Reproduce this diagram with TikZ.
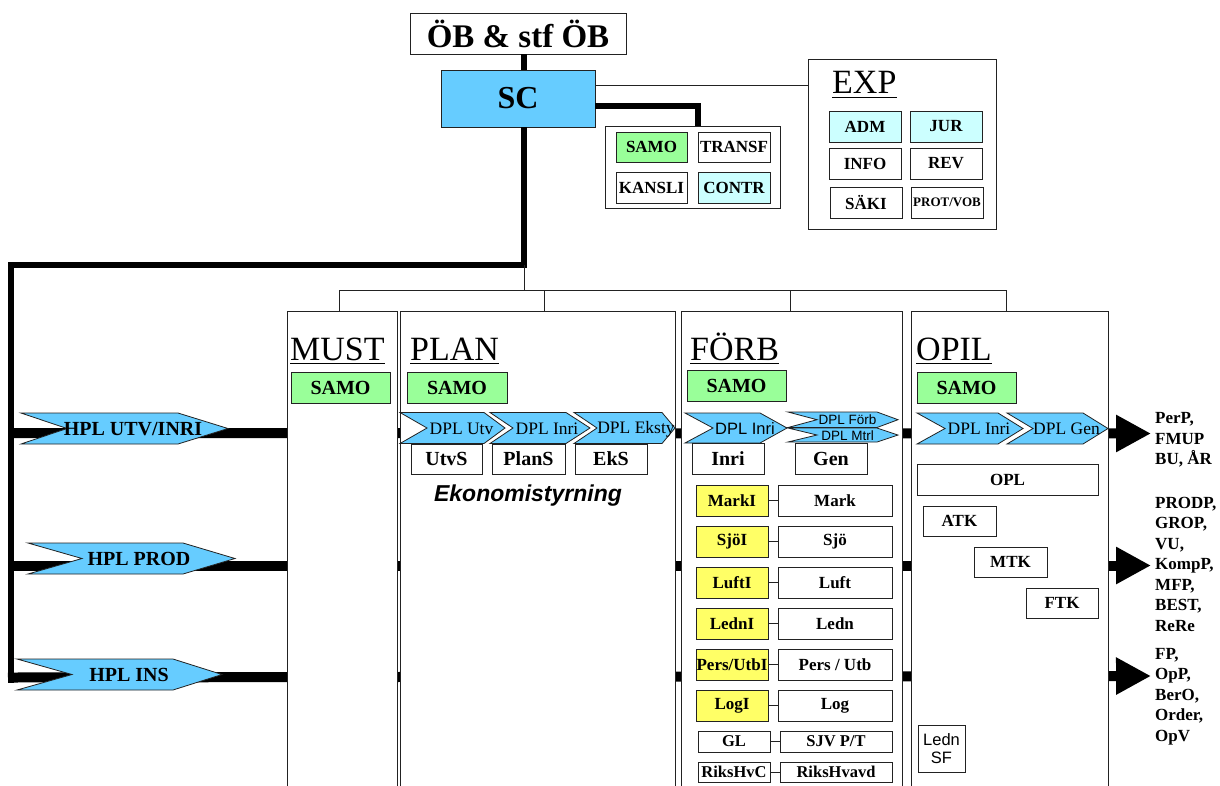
\documentclass[tikz,border=0pt]{standalone}
\usepackage{fontspec}
\setmainfont{Liberation Serif}
\setsansfont{Liberation Sans}
\usetikzlibrary{arrows.meta}
\definecolor{skyb}{HTML}{66CCFF}
\definecolor{grn}{HTML}{99FF99}
\definecolor{cyn}{HTML}{CCFFFF}
\definecolor{ylw}{HTML}{FFFF66}
\definecolor{edge}{HTML}{222222}
\newcommand\fsz[1]{\fontsize{#1}{#1}\selectfont}
% L N R T yt yb yc
\newcommand\chevron[7]{\draw[chev] (#1,#5) -- (#3,#5) -- (#4,#7) -- (#3,#6) -- (#1,#6) -- (#2,#7) -- cycle;}
\begin{document}
\begin{tikzpicture}[x=1pt,y=-1pt,
  bx/.style={draw=edge, line width=0.9pt, inner sep=0pt, font=\bfseries\fsz{17}},
  colbox/.style={draw=edge, line width=0.9pt, fill=white, inner sep=0pt},
  chev/.style={draw=edge, line width=0.8pt, fill=skyb},
  thinl/.style={draw=edge, line width=0.9pt},
  thick6/.style={draw=black, line width=6pt},
  hpl/.style={draw=black, line width=10pt, -{Triangle[length=35pt,width=35pt]}},
  hdr/.style={inner sep=0pt, anchor=base west, font=\fsz{34}},
  rtx/.style={inner sep=0pt, anchor=base west, font=\bfseries\fsz{17}},
  dpls/.style={inner sep=0pt, font=\fsz{17.5}},
  dplsans/.style={inner sep=0pt, font=\sffamily\fsz{16.5}}
]
\useasboundingbox (0,0) rectangle (1220,785);
\fill[white] (0,0) rectangle (1220,785);

% ---------- top ----------
\node[bx, font=\bfseries\fsz{33}, minimum width=216, minimum height=41] (ob) at (518,33.5) {ÖB \& stf ÖB};
\node[bx, fill=skyb, font=\bfseries\fsz{32}, minimum width=154, minimum height=57] (sc) at (518,98.5) {SC};

\node[colbox, minimum width=175, minimum height=82] (grp) at (692.5,167) {};
\node[bx, fill=grn, minimum width=71, minimum height=30] (samo0) at (651.5,147) {SAMO};
\node[bx, minimum width=72, minimum height=30] (transf) at (734,147) {TRANSF};
\node[bx, minimum width=71, minimum height=31] (kansli) at (651.5,187.5) {KANSLI};
\node[bx, fill=cyn, minimum width=72, minimum height=31] (contr) at (734,187.5) {CONTR};

\node[colbox, minimum width=188, minimum height=170] (exp) at (902,144) {};
\node[hdr] (expH) at (832,93.5) {EXP};
\draw[line width=1.6pt] ([yshift=-4pt]expH.base west) -- ([yshift=-4pt]expH.base east);
\node[bx, fill=cyn, minimum width=72, minimum height=31] (adm) at (865,126.5) {ADM};
\node[bx, fill=cyn, minimum width=72, minimum height=31] (jur) at (946,126.5) {JUR};
\node[bx, minimum width=72, minimum height=31] (info) at (865,163.5) {INFO};
\node[bx, minimum width=72, minimum height=31] (rev) at (946,163.5) {REV};
\node[bx, minimum width=72, minimum height=31] (saki) at (866,202.5) {SÄKI};
\node[bx, font=\bfseries\fsz{13}, minimum width=72, minimum height=31] (prot) at (947,202.5) {PROT/VOB};

\coordinate (tr1) at (524,265);
\coordinate (tr2) at (11,265);
\coordinate (tr3) at (11,683);
\coordinate (e1) at (700,85);
\coordinate (g1) at (698,106);
\draw[thick6] (ob.south -| tr1) -- (sc.north -| tr1);
\draw[thick6, line join=miter] (sc.south -| tr1) -- (tr1) -- (tr2) -- (tr3);
\draw[thinl] (sc.east |- e1) -- (exp.west |- e1);
\draw[thick6, line join=miter] (sc.east |- g1) -- (g1) -- (g1 |- grp.north);

% ---------- HPL lines (behind columns) ----------
\coordinate (h1a) at (11,433);  \coordinate (h1b) at (1151,433.5);
\coordinate (h2a) at (11,565.5);\coordinate (h2b) at (1151,565.5);
\coordinate (h3a) at (8,677.5); \coordinate (h3b) at (1151,676);
\draw[hpl] (h1a) -- (h1b);
\draw[hpl] (h2a) -- (h2b);
\draw[hpl] (h3a) -- (h3b);

% ---------- bus ----------
\coordinate (bus) at (524,290);
\coordinate (b1) at (339,290);
\coordinate (b2) at (544,290);
\coordinate (b3) at (790,290);
\coordinate (b4) at (1006,290);

% ---------- columns ----------
\node[colbox, minimum width=110, minimum height=476] (must) at (342,549) {};
\node[colbox, minimum width=275, minimum height=476] (plan) at (537.5,549) {};
\node[colbox, minimum width=221, minimum height=476] (forb) at (791.5,549) {};
\node[colbox, minimum width=197, minimum height=476] (opil) at (1009.5,549) {};

\draw[thinl] (tr1) -- (bus);
\draw[thinl] (b1) -- (b4);
\draw[thinl] (b1) -- (b1 |- must.north);
\draw[thinl] (b2) -- (b2 |- plan.north);
\draw[thinl] (b3) -- (b3 |- forb.north);
\draw[thinl] (b4) -- (b4 |- opil.north);

% headers
\node[hdr] (mustH) at (290,360) {MUST};
\node[hdr] (planH) at (410,360) {PLAN};
\node[hdr] (forbH) at (690,360) {FÖRB};
\node[hdr] (opilH) at (916,360) {OPIL};
\foreach \h in {mustH,planH,forbH,opilH}
  \draw[line width=1.6pt] ([yshift=-3.5pt]\h.base west) -- ([yshift=-3.5pt]\h.base east);

% SAMO boxes
\node[bx, fill=grn, font=\bfseries\fsz{20}, minimum width=99, minimum height=31] (samo1) at (340.5,387.5) {SAMO};
\node[bx, fill=grn, font=\bfseries\fsz{20}, minimum width=100, minimum height=31] (samo2) at (457,387.5) {SAMO};
\node[bx, fill=grn, font=\bfseries\fsz{20}, minimum width=99, minimum height=31] (samo3) at (736.5,385.5) {SAMO};
\node[bx, fill=grn, font=\bfseries\fsz{20}, minimum width=99, minimum height=31] (samo4) at (966.5,387.5) {SAMO};

% ---------- HPL chevrons ----------
\chevron{21}{67}{178}{228}{413}{444}{428.5}
\chevron{28}{82}{183}{235}{543}{574}{558.5}
\chevron{17}{72}{173}{222}{659}{690}{674.5}
\node[inner sep=0pt, font=\bfseries\fsz{20}] (hplu) at (133,429) {HPL UTV/INRI};
\node[inner sep=0pt, font=\bfseries\fsz{20}] (hplp) at (139,559) {HPL PROD};
\node[inner sep=0pt, font=\bfseries\fsz{20}] (hpli) at (129,675) {HPL INS};

% ---------- PLAN ----------
\chevron{400}{427}{484}{505}{412.5}{443.5}{428}
\chevron{490}{513}{566}{590}{412.5}{443.5}{428}
\chevron{574}{597}{662}{675}{412.5}{443.5}{428}
\node[dpls] (dplutv) at (461.5,429) {DPL Utv};
\node[dpls] (dplinri1) at (547,429) {DPL Inri};
\node[dpls] (dpleks) at (636,429) {DPL Eksty};
\node[bx, font=\bfseries\fsz{20}, minimum width=71, minimum height=30] (utvs) at (446.5,459) {UtvS};
\node[bx, font=\bfseries\fsz{20}, minimum width=73, minimum height=30] (plans) at (528.5,459) {PlanS};
\node[bx, font=\bfseries\fsz{20}, minimum width=72, minimum height=30] (eks) at (611,459) {EkS};
\node[inner sep=0pt, font=\sffamily\bfseries\itshape\fsz{23}] (ekon) at (528,496) {Ekonomistyrning};

% ---------- FÖRB ----------
\chevron{685}{713}{760}{787}{413}{443}{428}
\chevron{788}{817}{877}{898}{412}{427.5}{419.7}
\chevron{788}{817}{877}{898}{428}{442}{435}
\node[dplsans] (dplinri2) at (745,429) {DPL Inri};
\node[inner sep=0pt, font=\sffamily\fsz{13.5}] (dplforb) at (847.5,420) {DPL Förb};
\node[inner sep=0pt, font=\sffamily\fsz{13.5}] (dplmtrl) at (847.5,435.5) {DPL Mtrl};
\node[bx, font=\bfseries\fsz{20}, minimum width=72, minimum height=31] (inri) at (728,459) {Inri};
\node[bx, font=\bfseries\fsz{20}, minimum width=72, minimum height=31] (gen) at (831,459) {Gen};

\foreach \nm/\yl/\wt/\cy in {mk/MarkI/Mark/500.5, sj/SjöI/Sjö/541.5, lu/LuftI/Luft/582.5, le/LednI/Ledn/623.5, pe/{Pers/UtbI}/{Pers / Utb}/664.5, lo/LogI/Log/705.5}{
  \node[bx, fill=ylw, minimum width=72, minimum height=31] (\nm i) at (732,\cy) {\yl};
  \node[bx, minimum width=114, minimum height=31] (\nm w) at (835,\cy) {\wt};
  \draw[thinl] (\nm i.east) -- (\nm w.west);
}
\node[bx, font=\bfseries\fsz{16.5}, minimum width=72, minimum height=21] (gl) at (734,741.5) {GL};
\node[bx, font=\bfseries\fsz{16.5}, minimum width=112, minimum height=21] (sjv) at (836,741.5) {SJV P/T};
\draw[thinl] (gl.east) -- (sjv.west);
\node[bx, font=\bfseries\fsz{16.5}, minimum width=72, minimum height=20] (rhc) at (734,772) {RiksHvC};
\node[bx, font=\bfseries\fsz{16.5}, minimum width=112, minimum height=20] (rha) at (836,772) {RiksHvavd};
\draw[thinl] (rhc.east) -- (rha.west);

% ---------- OPIL ----------
\chevron{917}{945}{998}{1023}{413}{444}{428.5}
\chevron{1007}{1033}{1083}{1108}{413}{444}{428.5}
\node[dpls] (dplinri3) at (979,429) {DPL Inri};
\node[dpls] (dplgen) at (1066.5,429) {DPL Gen};
\node[bx, minimum width=181, minimum height=31] (opl) at (1007.5,479.5) {OPL};
\node[bx, minimum width=73, minimum height=30] (atk) at (959.5,521) {ATK};
\node[bx, minimum width=73, minimum height=30] (mtk) at (1010.5,562) {MTK};
\node[bx, minimum width=72, minimum height=30] (ftk) at (1062,603) {FTK};
\node[bx, font=\sffamily\fsz{16.5}, align=center, minimum width=47, minimum height=47] (lsf) at (941.5,748.5) {Ledn\\[1pt]SF};

% ---------- right texts ----------
\node[rtx] (r11) at (1155,423.5) {PerP,};
\node[rtx] (r12) at (1155,444) {FMUP};
\node[rtx] (r13) at (1155,464) {BU, ÅR};
\node[rtx] (r21) at (1155,508.5) {PRODP,};
\node[rtx] (r22) at (1155,528.5) {GROP,};
\node[rtx] (r23) at (1155,549) {VU,};
\node[rtx] (r24) at (1155,569) {KompP,};
\node[rtx] (r25) at (1155,590) {MFP,};
\node[rtx] (r26) at (1155,610.5) {BEST,};
\node[rtx] (r27) at (1155,631) {ReRe};
\node[rtx] (r31) at (1155,659) {FP,};
\node[rtx] (r32) at (1155,679) {OpP,};
\node[rtx] (r33) at (1155,700) {BerO,};
\node[rtx] (r34) at (1155,720.5) {Order,};
\node[rtx] (r35) at (1155,741.5) {OpV};
\end{tikzpicture}
\end{document}
